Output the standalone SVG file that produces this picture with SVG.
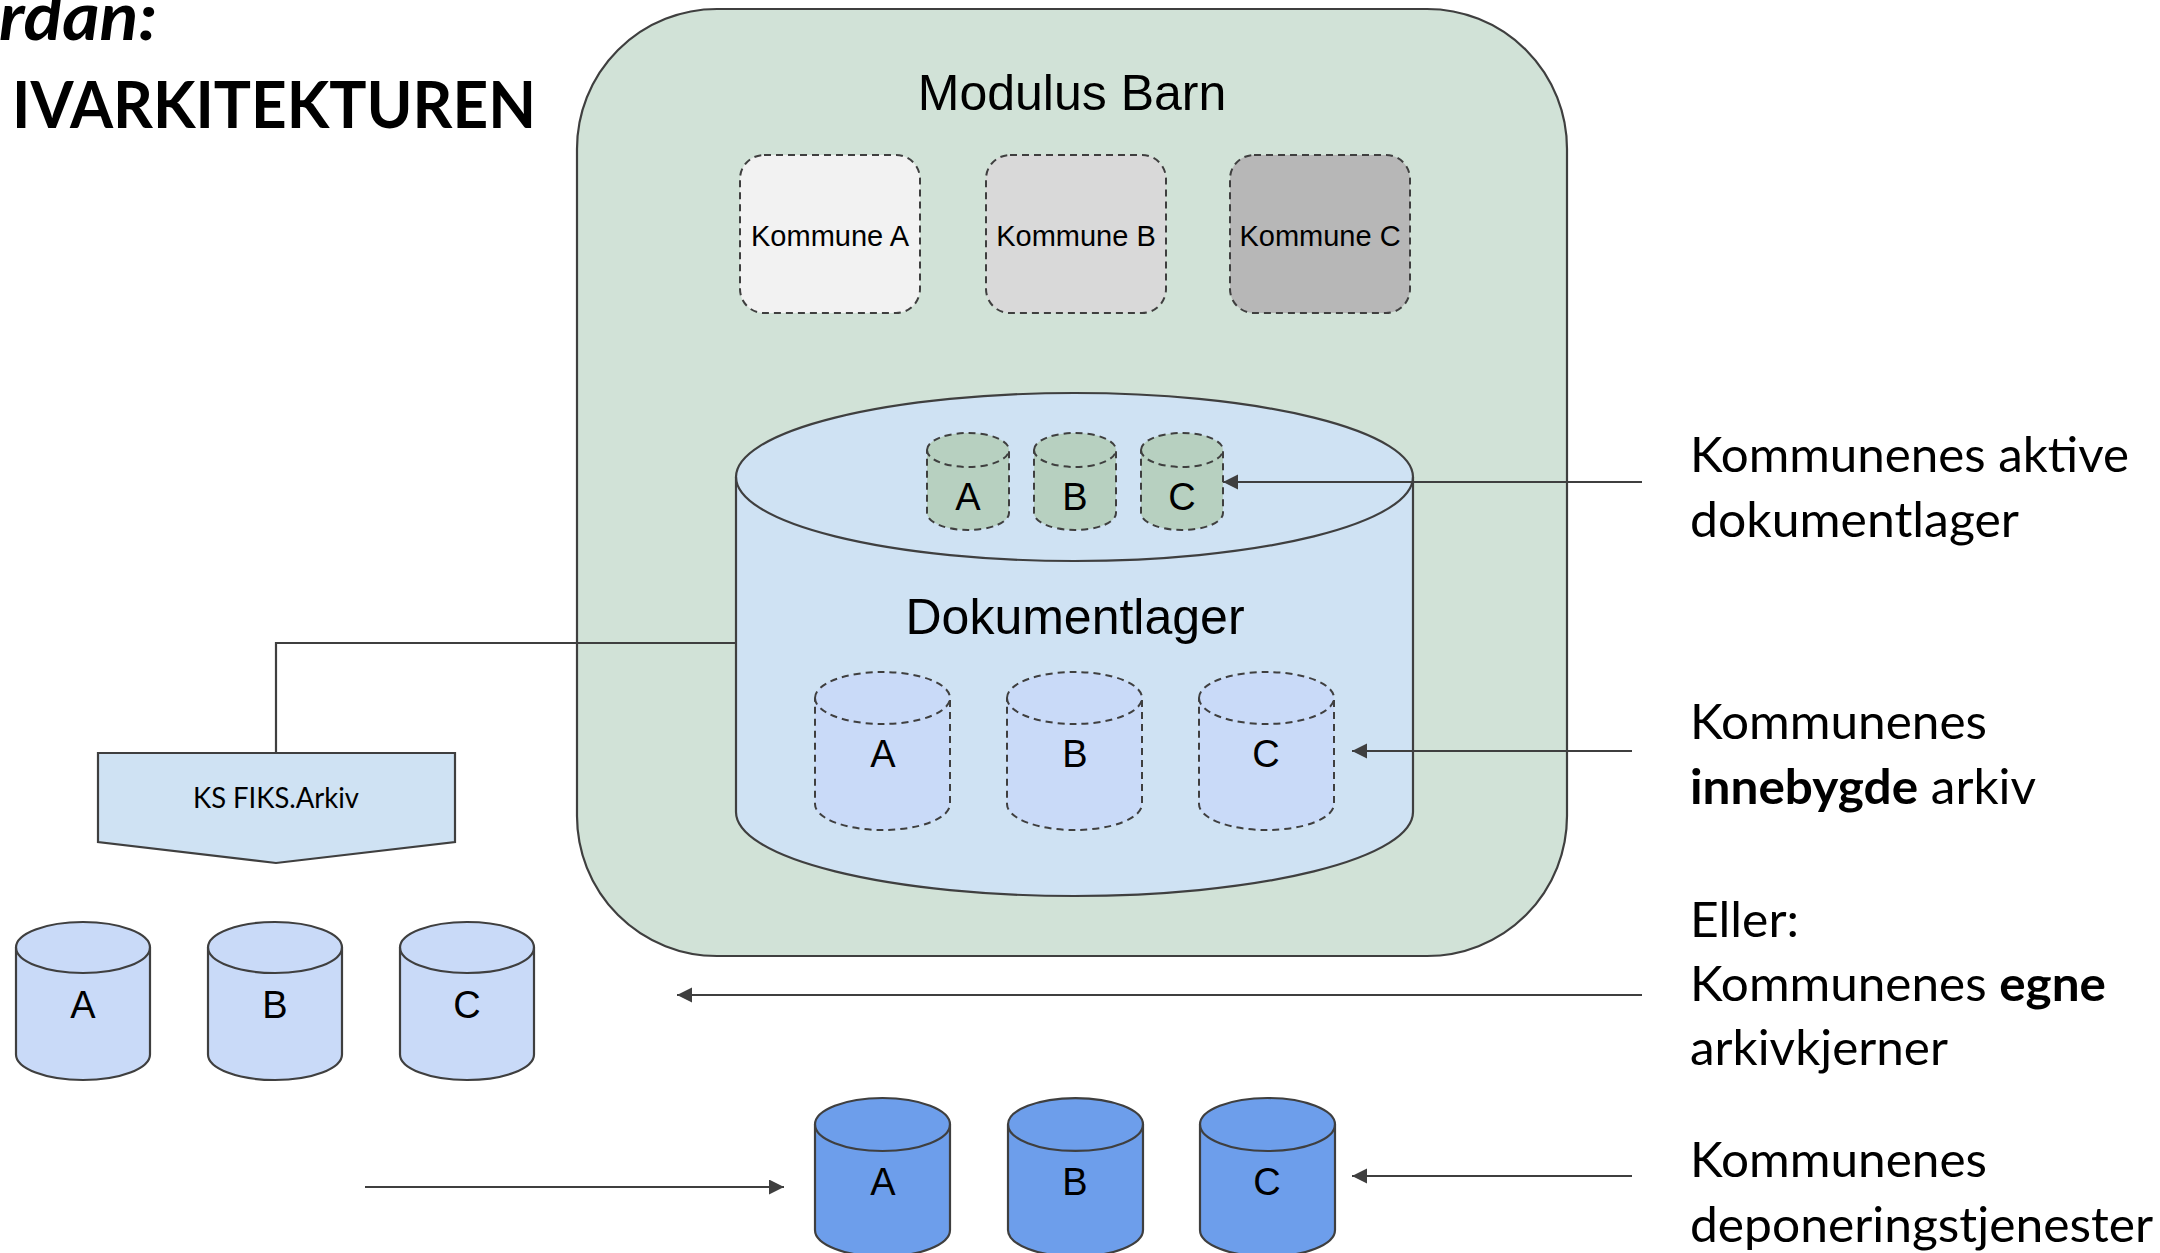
<svg xmlns="http://www.w3.org/2000/svg" width="2160" height="1253" viewBox="0 0 2160 1253">
<defs>
<style>
.ln{fill:none;stroke:#3f3f3f;stroke-width:2.2}
.sh{stroke:#3f3f3f;stroke-width:2.2}
.dash{stroke:#3f3f3f;stroke-width:2;stroke-dasharray:7 5}
.dr{font-family:"Liberation Sans",Arial,sans-serif;fill:#000;text-anchor:middle}
.cal{font-family:Lato,"Open Sans",sans-serif;fill:#000}
.b{font-weight:bold}
</style>
<marker id="ah" markerUnits="userSpaceOnUse" markerWidth="16" markerHeight="16" refX="15" refY="7.5" orient="auto">
<path d="M0,0 L15,7.5 L0,15 Z" fill="#3f3f3f"/>
</marker>
</defs>
<rect width="2160" height="1253" fill="#fff"/>

<g id="title">
<text class="cal b" x="-1" y="40" font-size="66" font-style="italic" textLength="158" lengthAdjust="spacingAndGlyphs">rdan:</text>
<text class="cal b" x="12" y="128" font-size="65" textLength="524" lengthAdjust="spacingAndGlyphs">IVARKITEKTUREN</text>
</g>

<g id="modulus-barn">
<rect x="577" y="9" width="990" height="947" rx="140" ry="140" fill="#d1e2d7" class="sh"/>
<text class="dr" x="1072" y="110" font-size="50">Modulus Barn</text>
</g>

<g id="kommune-a">
<rect x="740" y="155" width="180" height="158" rx="24" fill="#f2f2f2" class="dash"/>
<text class="dr" x="830" y="246" font-size="29">Kommune A</text>
</g>
<g id="kommune-b">
<rect x="986" y="155" width="180" height="158" rx="24" fill="#d9d9d9" class="dash"/>
<text class="dr" x="1076" y="246" font-size="29">Kommune B</text>
</g>
<g id="kommune-c">
<rect x="1230" y="155" width="180" height="158" rx="24" fill="#b7b7b7" class="dash"/>
<text class="dr" x="1320" y="246" font-size="29">Kommune C</text>
</g>

<g id="dokumentlager">
<path d="M736,477 A338.5,84 0 0 1 1413,477 L1413,812 A338.5,84 0 0 1 736,812 Z" fill="#cfe2f3" class="sh"/>
<path d="M736,477 A338.5,84 0 0 0 1413,477" class="ln"/>
<text class="dr" x="1075" y="634" font-size="50">Dokumentlager</text>
</g>

<g id="aktiv-a">
<path d="M927,450 A41,17 0 0 1 1009,450 L1009,513 A41,17 0 0 1 927,513 Z" fill="#b7d0c0" class="dash"/>
<path d="M927,450 A41,17 0 0 0 1009,450" fill="none" class="dash"/>
<text class="dr" x="968" y="510" font-size="38">A</text>
</g>
<g id="aktiv-b">
<path d="M1034,450 A41,17 0 0 1 1116,450 L1116,513 A41,17 0 0 1 1034,513 Z" fill="#b7d0c0" class="dash"/>
<path d="M1034,450 A41,17 0 0 0 1116,450" fill="none" class="dash"/>
<text class="dr" x="1075" y="510" font-size="38">B</text>
</g>
<g id="aktiv-c">
<path d="M1141,450 A41,17 0 0 1 1223,450 L1223,513 A41,17 0 0 1 1141,513 Z" fill="#b7d0c0" class="dash"/>
<path d="M1141,450 A41,17 0 0 0 1223,450" fill="none" class="dash"/>
<text class="dr" x="1182" y="510" font-size="38">C</text>
</g>

<g id="innebygd-a">
<path d="M815,698 A67.5,26 0 0 1 950,698 L950,804 A67.5,26 0 0 1 815,804 Z" fill="#c9daf8" class="dash"/>
<path d="M815,698 A67.5,26 0 0 0 950,698" fill="none" class="dash"/>
<text class="dr" x="883" y="767" font-size="38">A</text>
</g>
<g id="innebygd-b">
<path d="M1007,698 A67.5,26 0 0 1 1142,698 L1142,804 A67.5,26 0 0 1 1007,804 Z" fill="#c9daf8" class="dash"/>
<path d="M1007,698 A67.5,26 0 0 0 1142,698" fill="none" class="dash"/>
<text class="dr" x="1075" y="767" font-size="38">B</text>
</g>
<g id="innebygd-c">
<path d="M1199,698 A67.5,26 0 0 1 1334,698 L1334,804 A67.5,26 0 0 1 1199,804 Z" fill="#c9daf8" class="dash"/>
<path d="M1199,698 A67.5,26 0 0 0 1334,698" fill="none" class="dash"/>
<text class="dr" x="1266" y="767" font-size="38">C</text>
</g>

<g id="ks-fiks-arkiv">
<path d="M98,753 L455,753 L455,842 L276,863 L98,842 Z" fill="#cfe2f3" class="sh"/>
<text class="cal" x="276" y="808" font-size="29" text-anchor="middle" textLength="166" lengthAdjust="spacingAndGlyphs">KS FIKS.Arkiv</text>
</g>

<g id="egen-a">
<path d="M16,947.5 A67,25.5 0 0 1 150,947.5 L150,1054.5 A67,25.5 0 0 1 16,1054.5 Z" fill="#c9daf8" class="sh"/>
<path d="M16,947.5 A67,25.5 0 0 0 150,947.5" class="ln"/>
<text class="dr" x="83" y="1018" font-size="38">A</text>
</g>
<g id="egen-b">
<path d="M208,947.5 A67,25.5 0 0 1 342,947.5 L342,1054.5 A67,25.5 0 0 1 208,1054.5 Z" fill="#c9daf8" class="sh"/>
<path d="M208,947.5 A67,25.5 0 0 0 342,947.5" class="ln"/>
<text class="dr" x="275" y="1018" font-size="38">B</text>
</g>
<g id="egen-c">
<path d="M400,947.5 A67,25.5 0 0 1 534,947.5 L534,1054.5 A67,25.5 0 0 1 400,1054.5 Z" fill="#c9daf8" class="sh"/>
<path d="M400,947.5 A67,25.5 0 0 0 534,947.5" class="ln"/>
<text class="dr" x="467" y="1018" font-size="38">C</text>
</g>

<g id="depo-a">
<path d="M815,1124.5 A67.5,26.5 0 0 1 950,1124.5 L950,1230 A67.5,26.5 0 0 1 815,1230 Z" fill="#6d9eeb" class="sh"/>
<path d="M815,1124.5 A67.5,26.5 0 0 0 950,1124.5" class="ln"/>
<text class="dr" x="883" y="1195" font-size="38">A</text>
</g>
<g id="depo-b">
<path d="M1008,1124.5 A67.5,26.5 0 0 1 1143,1124.5 L1143,1230 A67.5,26.5 0 0 1 1008,1230 Z" fill="#6d9eeb" class="sh"/>
<path d="M1008,1124.5 A67.5,26.5 0 0 0 1143,1124.5" class="ln"/>
<text class="dr" x="1075" y="1195" font-size="38">B</text>
</g>
<g id="depo-c">
<path d="M1200,1124.5 A67.5,26.5 0 0 1 1335,1124.5 L1335,1230 A67.5,26.5 0 0 1 1200,1230 Z" fill="#6d9eeb" class="sh"/>
<path d="M1200,1124.5 A67.5,26.5 0 0 0 1335,1124.5" class="ln"/>
<text class="dr" x="1267" y="1195" font-size="38">C</text>
</g>

<g id="connectors">
<path d="M736,643 L276,643 L276,753" class="ln"/>
<path d="M1642,482 L1223,482" class="ln" marker-end="url(#ah)"/>
<path d="M1632,751 L1352,751" class="ln" marker-end="url(#ah)"/>
<path d="M1642,995 L677,995" class="ln" marker-end="url(#ah)"/>
<path d="M1632,1176 L1352,1176" class="ln" marker-end="url(#ah)"/>
<path d="M365,1187 L784,1187" class="ln" marker-end="url(#ah)"/>
</g>

<g id="labels">
<text class="cal" x="1690" y="472" font-size="48" textLength="439" lengthAdjust="spacingAndGlyphs">Kommunenes aktive</text>
<text class="cal" x="1690" y="537" font-size="48" textLength="329" lengthAdjust="spacingAndGlyphs">dokumentlager</text>
<text class="cal" x="1690" y="739" font-size="48" textLength="297" lengthAdjust="spacingAndGlyphs">Kommunenes</text>
<text class="cal" x="1690" y="804" font-size="48" textLength="346" lengthAdjust="spacingAndGlyphs"><tspan class="b">innebygde</tspan> arkiv</text>
<text class="cal" x="1690" y="937" font-size="48" textLength="109" lengthAdjust="spacingAndGlyphs">Eller:</text>
<text class="cal" x="1690" y="1001" font-size="48" textLength="416" lengthAdjust="spacingAndGlyphs">Kommunenes <tspan class="b">egne</tspan></text>
<text class="cal" x="1690" y="1065" font-size="48" textLength="258" lengthAdjust="spacingAndGlyphs">arkivkjerner</text>
<text class="cal" x="1690" y="1177" font-size="48" textLength="297" lengthAdjust="spacingAndGlyphs">Kommunenes</text>
<text class="cal" x="1690" y="1242" font-size="48" textLength="463" lengthAdjust="spacingAndGlyphs">deponeringstjenester</text>
</g>
</svg>
